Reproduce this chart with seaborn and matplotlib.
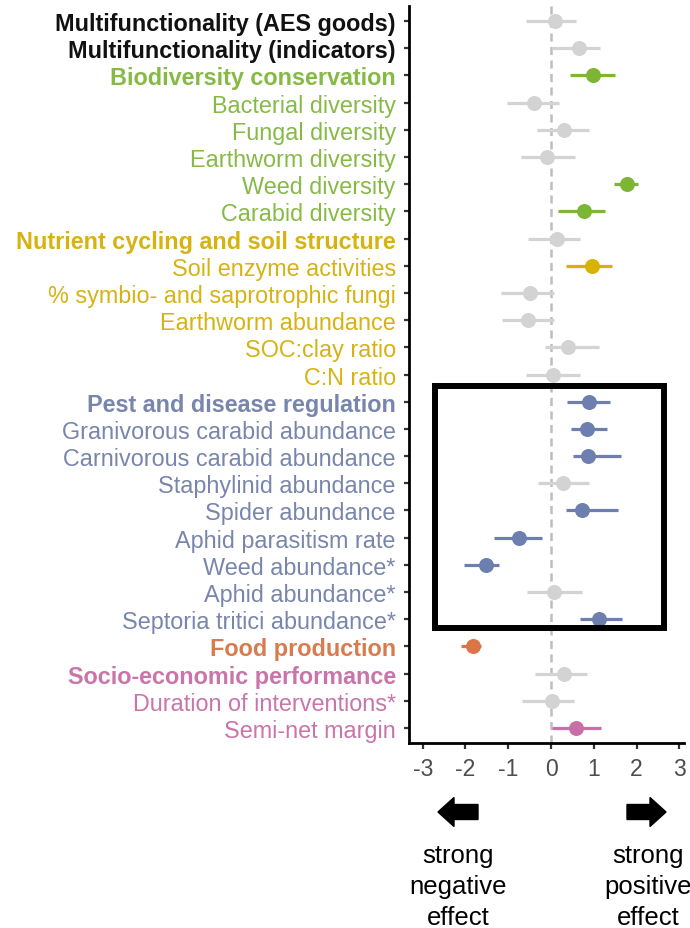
import numpy as np
import pandas as pd
import matplotlib
matplotlib.use("Agg")
import matplotlib.pyplot as plt
import matplotlib.patches as mpatches
import matplotlib.transforms as mtransforms
import seaborn as sns

# ---------------- data ----------------
labels = [
    "Multifunctionality (AES goods)",
    "Multifunctionality (indicators)",
    "Biodiversity conservation",
    "Bacterial diversity",
    "Fungal diversity",
    "Earthworm diversity",
    "Weed diversity",
    "Carabid diversity",
    "Nutrient cycling and soil structure",
    "Soil enzyme activities",
    "% symbio- and saprotrophic fungi",
    "Earthworm abundance",
    "SOC:clay ratio",
    "C:N ratio",
    "Pest and disease regulation",
    "Granivorous carabid abundance",
    "Carnivorous carabid abundance",
    "Staphylinid abundance",
    "Spider abundance",
    "Aphid parasitism rate",
    "Weed abundance*",
    "Aphid abundance*",
    "Septoria tritici abundance*",
    "Food production",
    "Socio-economic performance",
    "Duration of interventions*",
    "Semi-net margin",
]
groups = (["multi"] * 2 + ["biodiv"] * 6 + ["nutrient"] * 6 + ["pest"] * 9
          + ["food"] + ["socio"] * 3)
headers = [True, True, True, False, False, False, False, False,
           True, False, False, False, False, False,
           True, False, False, False, False, False, False, False, False,
           True, True, False, False]
estimate = [0.09, 0.65, 0.99, -0.40, 0.30, -0.10, 1.77, 0.78,
            0.13, 0.96, -0.50, -0.53, 0.40, 0.04,
            0.90, 0.85, 0.86, 0.28, 0.72, -0.76, -1.53, 0.08, 1.12,
            -1.82, 0.30, 0.02, 0.59]
ci_low = [-0.59, 0.02, 0.44, -1.02, -0.33, -0.71, 1.48, 0.16,
          -0.54, 0.35, -1.17, -1.14, -0.13, -0.58,
          0.38, 0.46, 0.51, -0.31, 0.35, -1.34, -2.03, -0.56, 0.67,
          -2.11, -0.38, -0.68, 0.02]
ci_high = [0.58, 1.15, 1.50, 0.18, 0.90, 0.57, 2.03, 1.27,
           0.68, 1.43, 0.08, 0.07, 1.13, 0.68,
           1.39, 1.32, 1.64, 0.88, 1.57, -0.20, -1.22, 0.72, 1.67,
           -1.64, 0.84, 0.54, 1.17]
significant = [False, False, True, False, False, False, True, True,
               False, True, False, False, False, False,
               True, True, True, False, True, True, True, False, True,
               True, False, False, True]
x_ticks = [-3, -2, -1, 0, 1, 2, 3]

group_colors = {
    "multi": "#000000",
    "biodiv": "#7DB535",
    "nutrient": "#D9B100",
    "pest": "#6C7FAF",
    "food": "#DB7548",
    "socio": "#C96FA8",
}
label_colors = {
    "multi": "#111111",
    "biodiv": "#86BA45",
    "nutrient": "#D6B312",
    "pest": "#7885AC",
    "food": "#D97B4E",
    "socio": "#C974AA",
}
grey = "#D3D3D3"

df = pd.DataFrame({
    "label": labels, "group": groups, "estimate": estimate,
    "lo": ci_low, "hi": ci_high, "sig": significant,
})
df["mark"] = [g if s else "ns" for g, s in zip(df["group"], df["sig"])]
palette = {g: c for g, c in group_colors.items()}
palette["ns"] = grey

# ---------------- figure ----------------
sns.set_theme(style="white")
plt.rcParams["font.family"] = ["Liberation Sans", "DejaVu Sans"]

fig = plt.figure(figsize=(6.9, 9.29), dpi=100)
ax = fig.add_axes([0.5928, 0.1991, 0.3985, 0.7934])

ax.axvline(0, color="#BDBDBD", lw=1.8, ls=(0, (3.2, 2.2)), zorder=1)

ypos = np.arange(len(df))
line_colors = [palette[m] for m in df["mark"]]
ax.hlines(ypos, df["lo"], df["hi"], colors=line_colors, lw=2.3, zorder=2)

sns.stripplot(data=df, x="estimate", y="label", hue="mark", palette=palette,
              order=labels, jitter=False, size=10.8, linewidth=0,
              orient="h", legend=False, ax=ax, zorder=3)

ax.set_ylim(len(df) - 1 + 0.55, -0.55)
ax.set_xlim(-3.32, 3.11)
ax.set_xticks(x_ticks)
ax.set_xticklabels([str(t) for t in x_ticks])
ax.set_xlabel("")
ax.set_ylabel("")

for sp in ["top", "right"]:
    ax.spines[sp].set_visible(False)
for sp in ["left", "bottom"]:
    ax.spines[sp].set_color("black")
    ax.spines[sp].set_linewidth(2.0)

ax.tick_params(axis="y", length=3.5, width=1.6, color="#333333", pad=6,
               labelsize=16.8, left=True)
ax.tick_params(axis="x", length=4, width=1.6, color="#333333", pad=6,
               labelsize=16.5, labelcolor="#4D4D4D", bottom=True)

for tl, g, h in zip(ax.get_yticklabels(), groups, headers):
    tl.set_color(label_colors[g])
    if h:
        tl.set_fontweight("bold")

# highlight box around the pest regulation block
rect = mpatches.Rectangle((-2.71, 13.42), 2.65 + 2.71, 22.32 - 13.42,
                          fill=False, ec="black", lw=4.3, zorder=5,
                          clip_on=False)
ax.add_patch(rect)

# arrows and captions below the axis (figure pixels)
H = 929
pix = mtransforms.IdentityTransform()
fig.add_artist(mpatches.FancyArrow(478, H - 813, -40, 0, width=15,
                                   head_width=29, head_length=16,
                                   length_includes_head=True,
                                   color="black", transform=pix))
fig.add_artist(mpatches.FancyArrow(627, H - 813, 39, 0, width=15,
                                   head_width=29, head_length=16,
                                   length_includes_head=True,
                                   color="black", transform=pix))
fig.text(458 / 690, 1 - 887 / H, "strong\nnegative\neffect", ha="center",
         va="center", fontsize=18.5, color="black", linespacing=1.38)
fig.text(648 / 690, 1 - 887 / H, "strong\npositive\neffect", ha="center",
         va="center", fontsize=18.5, color="black", linespacing=1.38)

fig.savefig("out.png", dpi=100)
